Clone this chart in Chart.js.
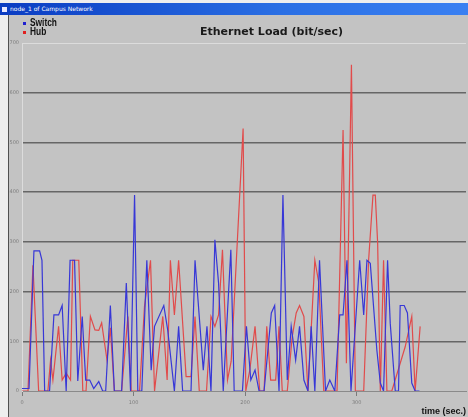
<!DOCTYPE html>
<html>
<head>
<meta charset="utf-8">
<title>Ethernet Load</title>
<script src="https://cdn.jsdelivr.net/npm/chart.js@4.4.1/dist/chart.umd.min.js"></script>
<style>
    body { margin: 0; background: #eeeeee; }
    #wrap { position: relative; width: 468px; height: 417px; overflow: hidden; }
    #chart { position: absolute; left: 0; top: 0; }
    .titlebar {
        position: absolute; left: 0; top: 3px; width: 468px; height: 12px;
        background: linear-gradient(to right, #0a3cc2, #2a6fe4 60%, #3a80f2);
        color: #fff; font: 6px 'DejaVu Sans', sans-serif; line-height: 12px;
    }
    .titlebar .ico { display: inline-block; width: 5px; height: 5px; margin: 0 3px 0 2px; background: #e8e8ff; vertical-align: -1px; }
    .legend { position: absolute; left: 23px; top: 18px; font: bold 11px 'Liberation Sans', Arial, sans-serif; line-height: 8.5px; color: #111; }
    .legend div { position: relative; padding-left: 7px; }
    .legend b { display: inline-block; transform: scaleX(0.76); transform-origin: left center; }
    .legend span { position: absolute; left: 0; top: 4px; width: 3px; height: 3px; }
    .chart-title { position: absolute; left: 200px; top: 26px; font: bold 11px 'DejaVu Sans', sans-serif; line-height: 11px; color: #1a1a1a; }
</style>
</head>
<body>
<div id="wrap">
    <canvas id="chart" width="468" height="417"></canvas>
    <div class="titlebar"><span class="ico"></span>node_1 of Campus Network</div>
    <div class="legend">
        <div><span style="background:#2020d0"></span><b>Switch</b></div>
        <div><span style="background:#e02020"></span><b>Hub</b></div>
    </div>
    <div class="chart-title">Ethernet Load (bit/sec)</div>
</div>
<script>
// Values (time in sec, load in bit/sec)
const switchTimes = [0, 6.3, 10.7, 15.8, 17.9, 20.3, 24.7, 28.6, 32.8, 36.0, 39.6, 43.1, 47.1, 50.0, 54.0, 57.1, 60.7, 64.3, 68.8, 72.3, 75.0, 79.2, 82.8, 89.3, 93.5, 97.3, 100.9, 103.8, 107.4, 111.9, 115.8, 118.8, 127.1, 130.6, 136.6, 140.4, 144.0, 151.5, 155.1, 162.5, 165.8, 169.4, 172.9, 176.2, 180.4, 187.2, 190.2, 197.6, 201.2, 205.1, 208.9, 212.5, 217.0, 223.5, 226.5, 230.4, 233.9, 237.8, 241.3, 245.3, 248.8, 252.7, 256.3, 259.2, 262.5, 266.7, 272.1, 275.9, 280.4, 284.8, 287.8, 291.3, 294.9, 302.7, 306.3, 309.2, 312.2, 318.1, 321.2, 324.1, 327.7, 330.1, 334.6, 337.5, 339.0, 342.6, 345.5, 349.4, 352.4, 356.3];
const switchLoad = [5, 5, 282, 282, 263, 0, 0, 153, 153, 172, 0, 263, 263, 20, 150, 22, 22, 5, 19, 0, 0, 172, 0, 0, 217, 0, 394, 0, 0, 263, 42, 130, 172, 123, 0, 130, 0, 0, 263, 42, 130, 0, 304, 217, 0, 284, 0, 0, 130, 22, 42, 0, 0, 157, 172, 0, 394, 22, 130, 62, 130, 22, 0, 130, 0, 263, 0, 22, 0, 153, 153, 263, 0, 263, 153, 263, 257, 82, 16, 0, 263, 136, 0, 0, 172, 172, 157, 16, 0, 0];

const hubTimes = [0, 5.4, 9.8, 14.9, 23.2, 25.6, 27.7, 32.8, 36.0, 39.6, 43.5, 45.5, 50.9, 54.5, 57.4, 61.3, 65.4, 68.8, 71.4, 76.2, 79.2, 82.8, 89.3, 94.9, 97.9, 105.4, 109.8, 115.2, 118.8, 126.2, 130.1, 133.0, 136.6, 140.4, 147.1, 151.5, 155.1, 158.9, 165.4, 169.4, 172.9, 176.2, 179.7, 184.2, 187.5, 198.2, 200.6, 204.2, 208.9, 213.1, 217.0, 219.4, 222.9, 227.4, 230.4, 233.3, 237.8, 242.2, 245.8, 248.8, 252.7, 256.3, 262.5, 266.1, 270.5, 282.4, 287.8, 290.8, 295.3, 298.8, 306.3, 310.7, 314.6, 316.7, 318.8, 321.2, 324.1, 327.1, 331.5, 343.5, 349.4, 352.4, 356.9];
const hubLoad = [0, 0, 253, 0, 0, 62, 22, 130, 22, 36, 22, 263, 263, 0, 0, 150, 123, 122, 137, 62, 127, 0, 0, 150, 0, 0, 170, 263, 0, 150, 22, 263, 153, 263, 29, 29, 150, 0, 0, 150, 130, 153, 284, 22, 60, 528, 0, 42, 130, 0, 0, 130, 22, 22, 130, 0, 0, 109, 157, 172, 150, 0, 263, 217, 0, 0, 525, 56, 656, 0, 0, 263, 394, 394, 298, 0, 263, 0, 0, 89, 150, 0, 130];

const xTicks = [0, 100, 200, 300];
const yTicks = [0, 100, 200, 300, 400, 500, 600, 700];

const toPoints = (times, values) => times.map((t, i) => ({ x: t, y: values[i] }));

// gray window background with the dark left border
const windowFrame = {
    id: 'windowFrame',
    beforeDraw(chart) {
        const ctx = chart.ctx;
        ctx.save();
        ctx.fillStyle = '#eeeeee';
        ctx.fillRect(0, 0, chart.width, chart.height);
        ctx.fillStyle = '#c3c3c3';
        ctx.fillRect(9, 15, chart.width - 9, chart.height - 15);
        ctx.fillStyle = '#505050';
        ctx.fillRect(8, 15, 1, chart.height - 15);
        ctx.restore();
    }
};

new Chart(document.getElementById('chart'), {
    type: 'line',
    data: {
        datasets: [
            { label: 'Switch', data: toPoints(switchTimes, switchLoad), borderColor: 'rgb(55, 55, 215)', borderWidth: 1.2, pointRadius: 0, tension: 0 },
            { label: 'Hub', data: toPoints(hubTimes, hubLoad), borderColor: 'rgb(225, 75, 75)', borderWidth: 1.2, pointRadius: 0, tension: 0 }
        ]
    },
    options: {
        responsive: false,
        animation: false,
        layout: { padding: { left: 9, right: 2, top: 43, bottom: 0 } },
        plugins: { legend: { display: false }, title: { display: false }, tooltip: { enabled: false } },
        scales: {
            x: {
                type: 'linear', min: 0, max: 398,
                afterBuildTicks: s => { s.ticks = xTicks.map(v => ({ value: v })); },
                afterFit: s => { s.height = 26; },
                grid: { drawOnChartArea: false, drawTicks: true, tickLength: 5, color: '#7a7a7a' },
                border: { color: '#8a8a8a' },
                ticks: { font: { size: 5, family: 'DejaVu Sans' }, color: '#7d7d7d', padding: 4, maxRotation: 0 },
                title: {
                    display: true, text: 'time (sec.)', align: 'end', color: '#111',
                    font: { family: "'Liberation Sans', Arial, sans-serif", size: 9, weight: 'bold', lineHeight: 1 },
                    padding: { top: 0, bottom: 1 }
                }
            },
            y: {
                min: 0, max: 700,
                afterBuildTicks: s => { s.ticks = yTicks.map(v => ({ value: v })); },
                afterFit: s => { s.width = 13; },
                grid: {
                    drawTicks: false,
                    color: c => c.tick.value === 700 ? '#dcdcdc' : (c.tick.value === 0 ? '#8a8a8a' : '#666666'),
                    lineWidth: c => (c.tick.value === 0 || c.tick.value === 700) ? 1 : 1.5
                },
                border: { color: '#dcdcdc' },
                ticks: { font: { size: 5, family: 'DejaVu Sans' }, color: '#7d7d7d', padding: 3 }
            }
        }
    },
    plugins: [windowFrame]
});
</script>
</body>
</html>
